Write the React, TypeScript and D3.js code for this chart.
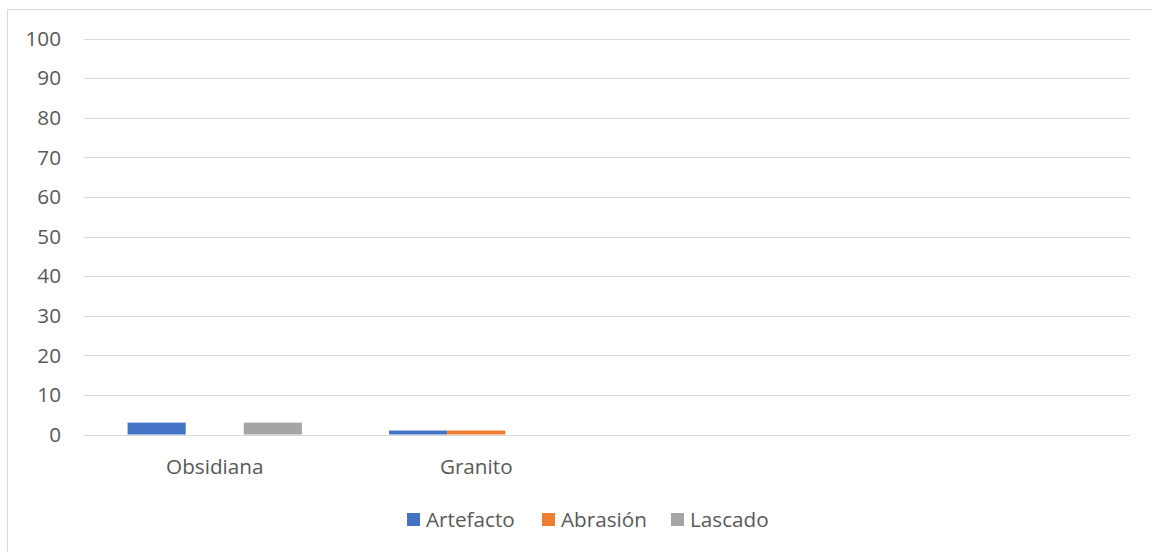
import React from "react";
import * as d3 from "d3";

const categories = ["Obsidiana", "Granito", "", ""];
const seriesNames = ["Artefacto", "Abrasión", "Lascado"];
const artefacto = [3, 1, 0, 0];
const abrasion = [0, 1, 0, 0];
const lascado = [3, 0, 0, 0];
const seriesColors = ["#4472C4", "#ED7D31", "#A5A5A5"];
const yTicks = [0, 10, 20, 30, 40, 50, 60, 70, 80, 90, 100];

const W = 1152;
const H = 552;
const FONT = "'Open Sans', Lato, sans-serif";
const FS = 20.7;

export default function App() {
  const values = [artefacto, abrasion, lascado];
  const left = 84;
  const right = 1130;
  const top = 38.5;
  const bottom = 434.5;

  const x = d3.scaleBand<number>().domain(d3.range(categories.length)).range([left, right]).padding(0);
  const bw = x.bandwidth();
  const gap = (bw * 1.5) / 4.5;
  const xs = d3.scaleBand<number>().domain(d3.range(seriesNames.length)).range([gap / 2, bw - gap / 2]).padding(0);
  const y = d3.scaleLinear().domain([0, 100]).range([bottom, top]);

  const legendItems = [
    { x: 407, tx: 426 },
    { x: 542, tx: 561 },
    { x: 671, tx: 690 },
  ];

  return (
    <svg width={W} height={H} style={{ position: "absolute", left: 0, top: 0, background: "#fff" }}>
      <rect x={7.5} y={9.5} width={1160} height={560} fill="#fff" stroke="#D9D9D9" strokeWidth={1} />
      {yTicks.map((t) => (
        <g key={t}>
          <line x1={left} x2={right} y1={Math.round(y(t)) + 0.5} y2={Math.round(y(t)) + 0.5} stroke="#D9D9D9" strokeWidth={1.2} />
          <text x={61} y={y(t)} dy="0.35em" textAnchor="end" fontFamily={FONT} fontSize={FS} fill="#595959">
            {t}
          </text>
        </g>
      ))}
      {values.map((vals, si) =>
        vals.map((v, ci) =>
          v > 0 ? (
            <rect
              key={`${si}-${ci}`}
              x={(x(ci) as number) + (xs(si) as number)}
              y={y(v)}
              width={xs.bandwidth()}
              height={y(0) - y(v)}
              fill={seriesColors[si]}
            />
          ) : null
        )
      )}
      {categories.map((c, ci) => (
        <text
          key={ci}
          x={(x(ci) as number) + bw / 2}
          y={467}
          dy="0.35em"
          textAnchor="middle"
          fontFamily={FONT}
          fontSize={FS}
          fill="#595959"
        >
          {c}
        </text>
      ))}
      {seriesNames.map((s, i) => (
        <g key={s}>
          <rect x={legendItems[i].x} y={513} width={13} height={13} fill={seriesColors[i]} />
          <text x={legendItems[i].tx} y={519.5} dy="0.35em" fontFamily={FONT} fontSize={FS} fill="#595959">
            {s}
          </text>
        </g>
      ))}
    </svg>
  );
}
